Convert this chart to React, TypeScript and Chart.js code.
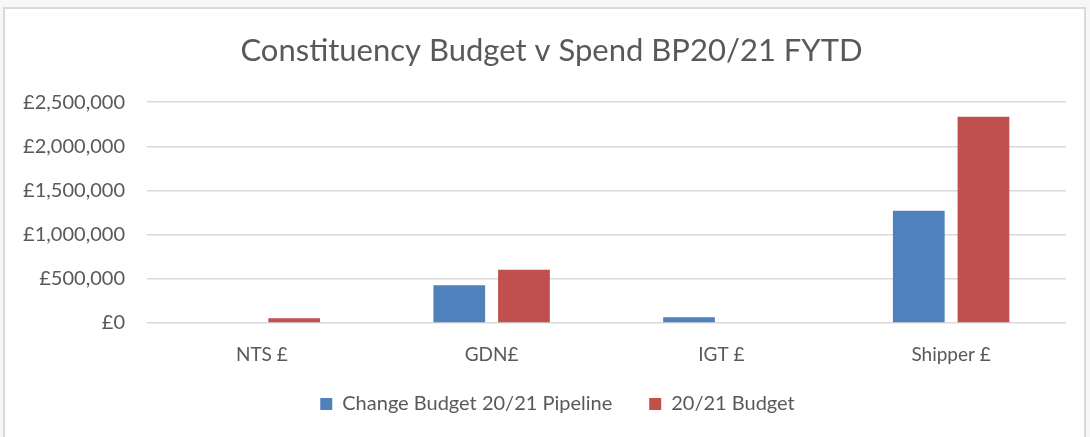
import React, { useEffect, useRef } from "react";
import { Chart, registerables } from "chart.js";

Chart.register(...registerables);

const categories = ["NTS £", "GDN£", "IGT £", "Shipper £"];
const pipelineValues = [0, 427000, 65000, 1270000];
const budgetValues = [53000, 604000, 0, 2335000];
const seriesNames = ["Change Budget 20/21 Pipeline", "20/21 Budget"];
const titleText = "Constituency Budget v Spend BP20/21 FYTD";

const FONT = "Lato, 'Liberation Sans', sans-serif";

const boxShift = {
  id: "boxShift",
  afterLayout(chart: any) {
    if (chart.legend) {
      chart.legend.left += 22;
      chart.legend.right += 22;
      chart.legend.top -= 11;
      chart.legend.bottom -= 11;
    }
    if (chart.titleBlock) {
      chart.titleBlock.left += 16;
      chart.titleBlock.right += 16;
    }
  },
};

export default function App() {
  const ref = useRef<HTMLCanvasElement | null>(null);
  useEffect(() => {
    if (!ref.current) return;
    const chart = new Chart(ref.current, {
      type: "bar",
      data: {
        labels: categories,
        datasets: [
          { label: seriesNames[0], data: pipelineValues, backgroundColor: "#4F81BD", borderWidth: 0 },
          { label: seriesNames[1], data: budgetValues, backgroundColor: "#C0504D", borderWidth: 0 },
        ],
      },
      plugins: [boxShift],
      options: {
        responsive: false,
        animation: false,
        maintainAspectRatio: false,
        layout: { padding: { left: 0, right: 18, top: 0, bottom: 2 } },
        datasets: { bar: { categoryPercentage: 0.563, barPercentage: 0.8 } },
        plugins: {
          title: {
            display: true,
            text: titleText,
            color: "#595959",
            font: { family: FONT, size: 31, weight: "normal" },
            padding: { top: 23, bottom: 33 },
          },
          legend: {
            position: "bottom",
            labels: {
              color: "#595959",
              font: { family: FONT, size: 20 },
              boxWidth: 12,
              boxHeight: 12,
              padding: 37,
            },
          },
          tooltip: { enabled: false },
        },
        scales: {
          x: {
            afterFit: (axis: any) => { axis.height = 45; },
            grid: { display: false, drawTicks: false },
            border: { display: false },
            ticks: { color: "#595959", font: { family: FONT, size: 19 }, padding: 20 },
          },
          y: {
            min: 0,
            max: 2500000,
            afterFit: (axis: any) => { axis.width = 142; },
            grid: { color: "#d9d9d9", lineWidth: 1.5, drawTicks: false },
            border: { display: false },
            ticks: {
              stepSize: 500000,
              padding: 22,
              color: "#595959",
              font: { family: FONT, size: 20 },
              callback: (v: any) => "£" + Number(v).toLocaleString("en-GB"),
            },
          },
        },
      },
    });
    return () => chart.destroy();
  }, []);
  return (
    <div style={{ position: "fixed", inset: 0, background: "#f7f7f7" }}>
      <div
        style={{
          position: "absolute",
          left: 3,
          top: 7,
          width: 1083,
          height: 430,
          background: "#ffffff",
          boxSizing: "border-box",
          borderTop: "2px solid #d9d9d9",
          borderLeft: "2px solid #d9d9d9",
          borderRight: "2px solid #d9d9d9",
        }}
      >
        <canvas ref={ref} width={1079} height={428} style={{ display: "block" }} />
      </div>
    </div>
  );
}
